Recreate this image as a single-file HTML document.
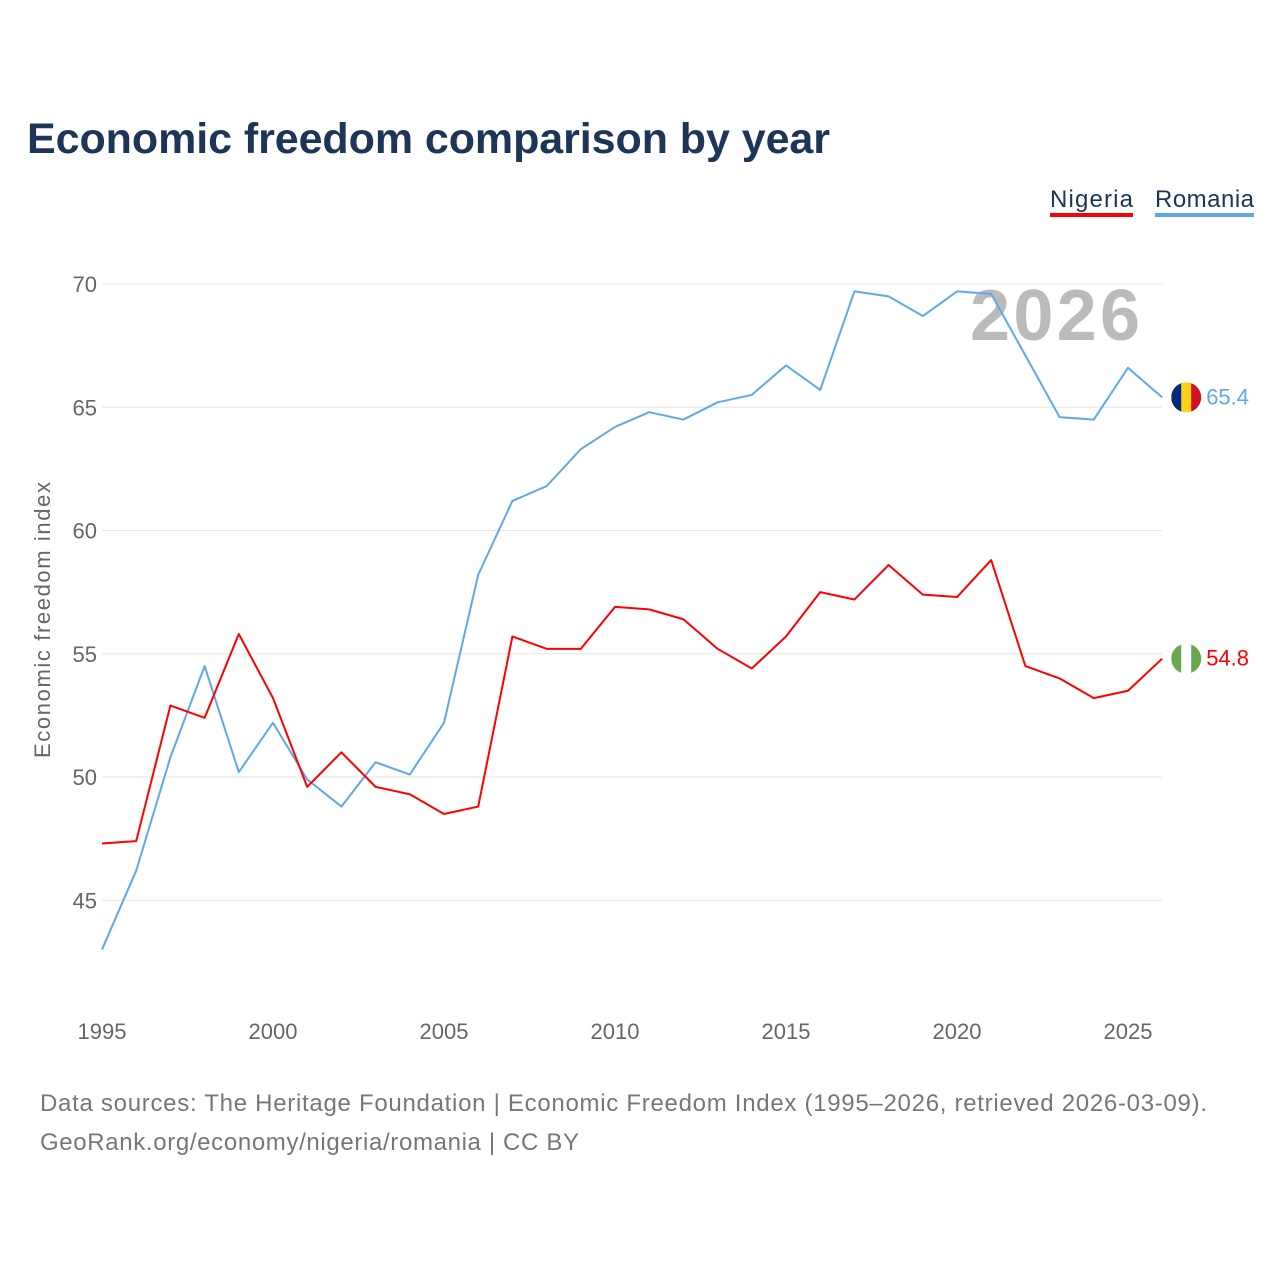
<!DOCTYPE html>
<html><head><meta charset="utf-8">
<style>
body{margin:0;background:#fff;font-family:"Liberation Sans",sans-serif;}
#wrap{position:relative;width:1280px;height:1280px;}
</style></head>
<body><div id="wrap">
<svg id="chart" width="1280" height="1280" style="font-family:'Liberation Sans',sans-serif">
<text x="27" y="153" font-size="43" font-weight="bold" fill="#1d3557" textLength="803">Economic freedom comparison by year</text>
<g><text x="1050" y="207" font-size="24" fill="#1d3557" textLength="83">Nigeria</text><rect x="1050" y="213" width="83" height="4" fill="#ff0000"/></g>
<g><text x="1155" y="207" font-size="24" fill="#1d3557" textLength="99">Romania</text><rect x="1155" y="213" width="99" height="4" fill="#5fa8ea"/></g>
<text x="1140" y="340" font-size="72" font-weight="bold" fill="#bbbbbb" text-anchor="end" textLength="170">2026</text>
<text transform="translate(50,620) rotate(-90)" font-size="22" fill="#666" text-anchor="middle" textLength="276">Economic freedom index</text>
<g id="grid"></g><g id="series"></g>
<text x="40" y="1111" font-size="24" fill="#777" textLength="1167">Data sources: The Heritage Foundation | Economic Freedom Index (1995–2026, retrieved 2026-03-09).</text>
<text x="40" y="1150" font-size="24" fill="#777" textLength="539">GeoRank.org/economy/nigeria/romania | CC BY</text>
</svg></div>
<script>
const years=[1995,1996,1997,1998,1999,2000,2001,2002,2003,2004,2005,2006,2007,2008,2009,2010,2011,2012,2013,2014,2015,2016,2017,2018,2019,2020,2021,2022,2023,2024,2025,2026];
const romania=[43.0,46.2,50.8,54.5,50.2,52.2,49.9,48.8,50.6,50.1,52.2,58.2,61.2,61.8,63.3,64.2,64.8,64.5,65.2,65.5,66.7,65.7,69.7,69.5,68.7,69.7,69.6,67.1,64.6,64.5,66.6,65.4];
const nigeria=[47.3,47.4,52.9,52.4,55.8,53.2,49.6,51.0,49.6,49.3,48.5,48.8,55.7,55.2,55.2,56.9,56.8,56.4,55.2,54.4,55.7,57.5,57.2,58.6,57.4,57.3,58.8,54.5,54.0,53.2,53.5,54.8];
const yTicks=[45,50,55,60,65,70];
const xTicks=[1995,2000,2005,2010,2015,2020,2025];
const NS="http://www.w3.org/2000/svg";
const X=v=>102+(v-1995)*34.2;
const Y=v=>284+(70-v)*24.65;
function mk(t,a,p){const e=document.createElementNS(NS,t);for(const k in a)e.setAttribute(k,a[k]);p.appendChild(e);return e;}
const grid=document.getElementById('grid'),ser=document.getElementById('series');
yTicks.forEach(v=>{
 const l=mk('line',{x1:102,x2:1162,y1:Y(v),y2:Y(v),stroke:'#e6e6e6','stroke-width':1},grid);
 
 
 const t=mk('text',{x:97,y:Y(v)+8,'font-size':22,fill:'#666','text-anchor':'end'},grid);t.textContent=v;
 
 
});
xTicks.forEach(v=>{
 const t=mk('text',{x:X(v),y:1039,'font-size':22,fill:'#666','text-anchor':'middle'},grid);t.textContent=v;
 
 
});
function line(data,color,name){
 const p=mk('polyline',{points:data.map((v,i)=>X(years[i])+','+Y(v)).join(' '),fill:'none',stroke:color,'stroke-width':2,'stroke-linejoin':'round'},ser);
 
 
}
line(romania,'#5fa8ea','romania');
line(nigeria,'#ff0000','nigeria');
function flag(cx,cy,cols,name){
 const g=mk('g',{},ser);
 
 
 const cp=mk('clipPath',{id:'c'+name},g);mk('circle',{cx:cx,cy:cy,r:15},cp);
 cols.forEach((c,i)=>mk('rect',{x:cx-15+i*10,y:cy-15,width:10.5,height:30,fill:c,'clip-path':'url(#c'+name+')'},g));
}
const last=years.length-1,xe=X(years[last])+24;
flag(xe,Y(romania[last]),['#002b7f','#fcd116','#ce1126'],'romania');
flag(xe,Y(nigeria[last]),['#6aa84f','#ffffff','#6aa84f'],'nigeria');
let t=mk('text',{x:xe+20,y:Y(romania[last])+7,'font-size':22,fill:'#5fa8ea'},ser);t.textContent=romania[last].toFixed(1);


t=mk('text',{x:xe+20,y:Y(nigeria[last])+7,'font-size':22,fill:'#ff0000'},ser);t.textContent=nigeria[last].toFixed(1);


</script>
</body></html>
